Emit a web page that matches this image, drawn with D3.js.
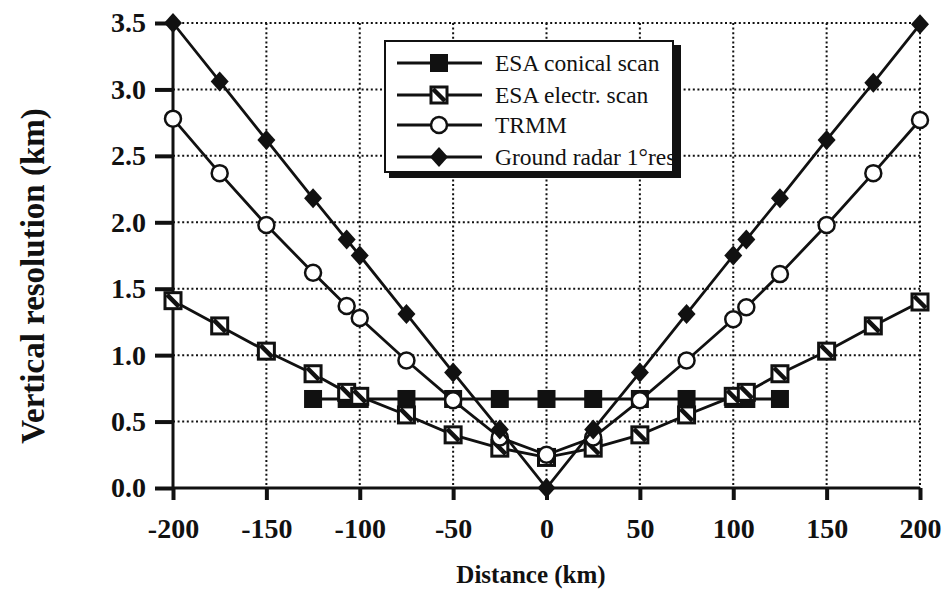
<!DOCTYPE html>
<html>
<head>
<meta charset="utf-8">
<script src="https://cdn.jsdelivr.net/npm/d3@7"></script>
<style>
  html, body { margin: 0; padding: 0; background: #fff; }
  svg { display: block; }
  text { font-family: "Liberation Serif", "Times New Roman", serif; fill: #111; }
</style>
</head>
<body>
<svg id="chart" width="951" height="590"></svg>
<script>
// ---- data ----
const xTicks = [-200, -150, -100, -50, 0, 50, 100, 150, 200];
const yTicks = [0.0, 0.5, 1.0, 1.5, 2.0, 2.5, 3.0, 3.5];

const conicalX = [-125, -107, -100, -75, -50, -25, 0, 25, 50, 75, 100, 107, 125];
const conicalY = [0.67, 0.67, 0.67, 0.67, 0.67, 0.67, 0.67, 0.67, 0.67, 0.67, 0.67, 0.67, 0.67];

const seriesX = [-200, -175, -150, -125, -107, -100, -75, -50, -25, 0, 25, 50, 75, 100, 107, 125, 150, 175, 200];
const electrY = [1.41, 1.22, 1.03, 0.86, 0.72, 0.69, 0.55, 0.40, 0.30, 0.23, 0.30, 0.40, 0.55, 0.69, 0.72, 0.86, 1.03, 1.22, 1.40];
const trmmY   = [2.78, 2.37, 1.98, 1.62, 1.37, 1.28, 0.96, 0.66, 0.38, 0.25, 0.38, 0.66, 0.96, 1.27, 1.36, 1.61, 1.98, 2.37, 2.77];
const groundY = [3.50, 3.06, 2.62, 2.18, 1.87, 1.75, 1.31, 0.87, 0.44, 0.00, 0.44, 0.87, 1.31, 1.75, 1.87, 2.18, 2.62, 3.05, 3.49];

const legendLabels = ["ESA conical scan", "ESA electr. scan", "TRMM", "Ground radar 1\u00B0res"];

// ---- layout ----
const svg = d3.select("#chart");
const x = d3.scaleLinear().domain([-200, 200]).range([173, 920]);
const y = d3.scaleLinear().domain([0, 3.5]).range([488, 23]);
const ink = "#111";
const serif = "'Liberation Serif', 'Times New Roman', serif";

// grid
const grid = svg.append("g");
grid.selectAll(".gx").data(xTicks.filter(d => d !== -200)).join("line")
  .attr("x1", d => x(d)).attr("x2", d => x(d))
  .attr("y1", y(3.5)).attr("y2", y(0))
  .attr("stroke", ink).attr("stroke-width", 2).attr("stroke-dasharray", "2,2.6");
grid.selectAll(".gy").data(yTicks.filter(d => d !== 0)).join("line")
  .attr("x1", x(-200)).attr("x2", x(200))
  .attr("y1", d => y(d)).attr("y2", d => y(d))
  .attr("stroke", ink).attr("stroke-width", 2).attr("stroke-dasharray", "2,2.6");

// axes
const xAxis = d3.axisBottom(x).tickValues(xTicks).tickSize(12).tickFormat(d3.format("d"));
const gx = svg.append("g").attr("transform", `translate(0,${y(0)})`).call(xAxis);
gx.select(".domain").attr("stroke", ink).attr("stroke-width", 3).attr("d", `M${x(-200)},0H${x(200)}`);
gx.selectAll(".tick line").attr("stroke", ink).attr("stroke-width", 4);
gx.selectAll(".tick text").attr("dy", 0).attr("y", 50)
  .style("font-size", "28px").style("font-weight", "bold")
  .style("font-family", serif).attr("fill", ink)
  .text(d => d < 0 ? "-" + Math.abs(d) : d);

const yAxis = d3.axisLeft(y).tickValues(yTicks).tickSize(18).tickFormat(d3.format(".1f"));
const gy = svg.append("g").attr("transform", `translate(${x(-200)},0)`).call(yAxis);
gy.select(".domain").attr("stroke", ink).attr("stroke-width", 3).attr("d", `M0,${y(3.5)}V${y(0)}`);
gy.selectAll(".tick line").attr("stroke", ink).attr("stroke-width", 4);
gy.selectAll(".tick text").attr("x", -27)
  .style("font-size", "28px").style("font-weight", "bold")
  .style("font-family", serif).attr("fill", ink);

// axis titles
svg.append("text").attr("x", 531).attr("y", 583).attr("text-anchor", "middle")
  .style("font-size", "25px").style("font-weight", "bold").text("Distance (km)");
svg.append("text").attr("transform", `translate(44,276) rotate(-90)`).attr("text-anchor", "middle")
  .style("font-size", "33px").style("font-weight", "bold").text("Vertical resolution (km)");

// line generator
const line = d3.line().x(d => x(d[0])).y(d => y(d[1]));

// markers
function drawMarker(g, kind, cx, cy) {
  if (kind === "filled") {
    g.append("rect").attr("x", cx - 9).attr("y", cy - 9).attr("width", 18).attr("height", 18).attr("fill", ink);
  } else if (kind === "hatched") {
    g.append("rect").attr("x", cx - 8).attr("y", cy - 8).attr("width", 16).attr("height", 16)
      .attr("fill", "#fff").attr("stroke", ink).attr("stroke-width", 3);
    g.append("line").attr("x1", cx - 6).attr("y1", cy - 6).attr("x2", cx + 6).attr("y2", cy + 6)
      .attr("stroke", ink).attr("stroke-width", 4.5);
  } else if (kind === "circle") {
    g.append("circle").attr("cx", cx).attr("cy", cy).attr("r", 8)
      .attr("fill", "#fff").attr("stroke", ink).attr("stroke-width", 2.5);
  } else if (kind === "diamond") {
    g.append("path").attr("d", `M${cx},${cy - 10}L${cx + 9},${cy}L${cx},${cy + 10}L${cx - 9},${cy}Z`).attr("fill", ink);
  }
}

const series = [
  { xs: conicalX, ys: conicalY, kind: "filled" },
  { xs: seriesX, ys: electrY, kind: "hatched" },
  { xs: seriesX, ys: trmmY, kind: "circle" },
  { xs: seriesX, ys: groundY, kind: "diamond" }
];

series.forEach(s => {
  const pts = s.xs.map((v, i) => [v, s.ys[i]]);
  const g = svg.append("g");
  g.append("path").attr("d", line(pts)).attr("fill", "none").attr("stroke", ink).attr("stroke-width", 2.8);
  pts.forEach(p => drawMarker(g, s.kind, x(p[0]), y(p[1])));
});

// legend
const lg = svg.append("g");
lg.append("rect").attr("x", 389).attr("y", 45).attr("width", 292).attr("height", 133).attr("fill", ink);
lg.append("rect").attr("x", 385).attr("y", 41).attr("width", 288).attr("height", 131)
  .attr("fill", "#fff").attr("stroke", ink).attr("stroke-width", 2);
svg.append("defs").append("clipPath").attr("id", "lgclip")
  .append("rect").attr("x", 386).attr("y", 42).attr("width", 286).attr("height", 129);
const lgi = lg.append("g").attr("clip-path", "url(#lgclip)");
const kinds = ["filled", "hatched", "circle", "diamond"];
const rowY = [63, 95, 125, 157];
legendLabels.forEach((lab, i) => {
  lgi.append("line").attr("x1", 397).attr("x2", 482).attr("y1", rowY[i]).attr("y2", rowY[i])
    .attr("stroke", ink).attr("stroke-width", 2.8);
  drawMarker(lgi, kinds[i], 439, rowY[i]);
  lgi.append("text").attr("x", 495).attr("y", rowY[i]).attr("dy", "0.35em")
    .style("font-size", "23.5px").text(lab);
});
</script>
</body>
</html>
